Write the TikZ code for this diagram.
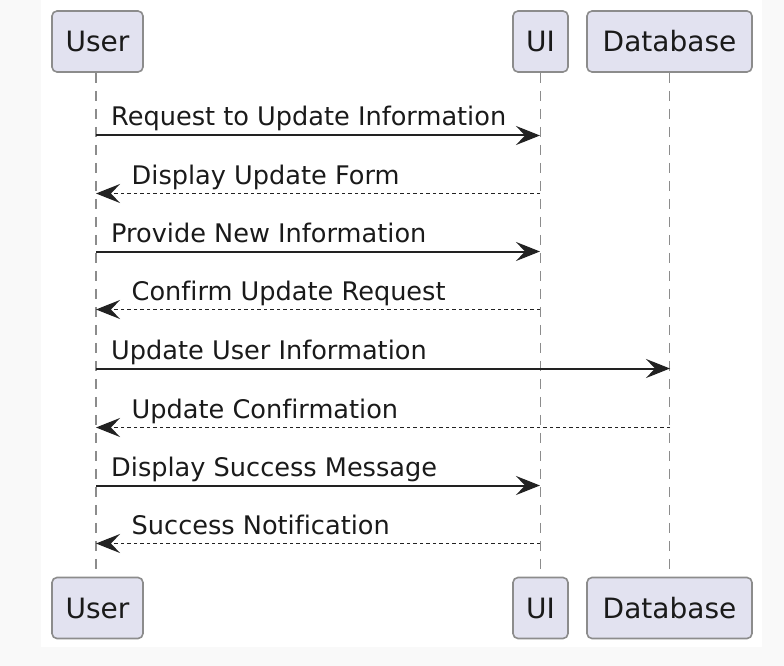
\documentclass[tikz,border=0pt]{standalone}
\usepackage{fontspec}
\setmainfont{DejaVu Sans}[Ligatures={NoCommon}]
\usetikzlibrary{arrows.meta}
\definecolor{actfill}{HTML}{E2E2F0}
\definecolor{actborder}{HTML}{8C8C8C}
\definecolor{lifegray}{HTML}{8C8C8C}
\definecolor{arrowcol}{HTML}{222222}
\definecolor{txtcol}{HTML}{1A1A1A}
\definecolor{outerbg}{HTML}{F9F9F9}
\tikzset{
  actor/.style={draw=actborder, line width=1.6pt, fill=actfill, rounded corners=5pt,
    minimum height=61pt, inner sep=0pt, text=txtcol,
    font=\fontsize{28}{32}\selectfont},
  lifeline/.style={draw=lifegray, line width=1.5pt, dash pattern=on 10pt off 8pt},
  msg/.style={draw=arrowcol, line width=2pt, -{Stealth[length=24pt, width=19pt, inset=9pt]}},
  ret/.style={draw=arrowcol, line width=1.6pt, dash pattern=on 3.5pt off 3pt,
    -{Stealth[length=24pt, width=19pt, inset=9pt]}},
  lbl/.style={anchor=base west, inner sep=0pt, text=txtcol,
    font=\fontsize{25.6}{30}\selectfont}
}
\begin{document}
\begin{tikzpicture}[x=1pt,y=1pt]
\useasboundingbox (0,0) rectangle (784,-666);
\fill[outerbg] (0,0) rectangle (784,-666);
\fill[white] (41,0) rectangle (762,-647);
% actors
\node[actor, minimum width=91pt]  (userT) at (97.5,-41.5) {User};
\node[actor, minimum width=55pt]  (uiT)   at (540.5,-41.5) {UI};
\node[actor, minimum width=165pt] (dbT)   at (669.5,-41.5) {Database};
\node[actor, minimum width=91pt]  (userB) at (97.5,-608) {User};
\node[actor, minimum width=55pt]  (uiB)   at (540.5,-608) {UI};
\node[actor, minimum width=165pt] (dbB)   at (669.5,-608) {Database};
% lifelines
\draw[lifeline] ([xshift=-1.5pt]userT.south) -- ([xshift=-1.5pt]userB.north);
\draw[lifeline] (uiT.south) -- (uiB.north);
\draw[lifeline] (dbT.south) -- (dbB.north);
\coordinate (ul) at (96,0);
\coordinate (il) at (540,0);
\coordinate (dl) at (670,0);
% message rows
\coordinate (m1) at (0,-135.5);
\coordinate (m2) at (0,-193.5);
\coordinate (m3) at (0,-251.5);
\coordinate (m4) at (0,-309.5);
\coordinate (m5) at (0,-368.5);
\coordinate (m6) at (0,-427.5);
\coordinate (m7) at (0,-485.5);
\coordinate (m8) at (0,-543.5);
\draw[msg] (ul |- m1) -- (il |- m1);
\draw[ret] (il |- m2) -- (ul |- m2);
\draw[msg] (ul |- m3) -- (il |- m3);
\draw[ret] (il |- m4) -- (ul |- m4);
\draw[msg] (ul |- m5) -- (dl |- m5);
\draw[ret] (dl |- m6) -- (ul |- m6);
\draw[msg] (ul |- m7) -- (il |- m7);
\draw[ret] (il |- m8) -- (ul |- m8);
% labels
\node[lbl] (l1) at (111,-126) {Request to Update Information};
\node[lbl] (l2) at (131.5,-184) {Display Update Form};
\node[lbl] (l3) at (111,-242) {Provide New Information};
\node[lbl] (l4) at (131.5,-300) {Confirm Update Request};
\node[lbl] (l5) at (111,-359) {Update User Information};
\node[lbl] (l6) at (131.5,-418) {Update Confirmation};
\node[lbl] (l7) at (111,-476) {Display Success Message};
\node[lbl] (l8) at (131.5,-534) {Success Notification};
\end{tikzpicture}
\end{document}
